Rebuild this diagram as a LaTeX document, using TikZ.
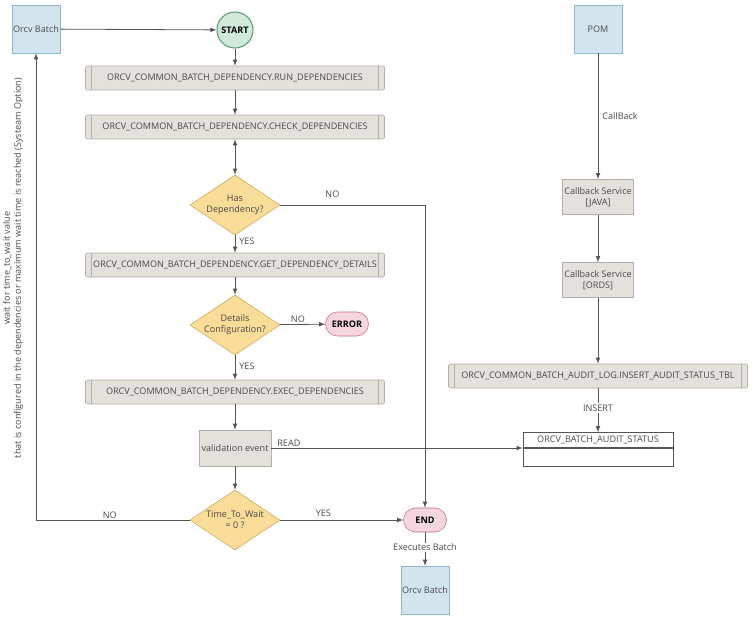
\documentclass[tikz,border=0pt]{standalone}
\usepackage{fontspec}
\setmainfont{Open Sans}
\usetikzlibrary{shapes.geometric, positioning}

\definecolor{bluefill}{HTML}{D2E5EE}
\definecolor{blueline}{HTML}{8DB9CA}
\definecolor{greenfill}{HTML}{D0E9D8}
\definecolor{greenline}{HTML}{5E9C78}
\definecolor{greyfill}{HTML}{E4E1DD}
\definecolor{greyline}{HTML}{B3AFAA}
\definecolor{yellowfill}{HTML}{F9DC98}
\definecolor{yellowline}{HTML}{C9A64E}
\definecolor{pinkfill}{HTML}{F6D6DE}
\definecolor{pinkline}{HTML}{C46A80}
\definecolor{txtgray}{HTML}{4A4A4A}
\definecolor{linegray}{HTML}{555555}

\tikzset{
  every node/.style={font=\fontsize{6.8}{8.2}\selectfont, text=txtgray},
  batchbox/.style={draw=blueline, fill=bluefill, minimum size=48*0.75pt, inner sep=0pt},
  subproc/.style={draw=greyline, fill=greyfill, rounded corners=1pt,
    minimum width=299*0.75pt, minimum height=24*0.75pt, inner sep=0pt,
    path picture={
      \draw[greyline] ([xshift=6*0.75pt]path picture bounding box.north west) -- ([xshift=6*0.75pt]path picture bounding box.south west);
      \draw[greyline] ([xshift=-6*0.75pt]path picture bounding box.north east) -- ([xshift=-6*0.75pt]path picture bounding box.south east);}},
  service/.style={draw=greyline, fill=greyfill, minimum width=71*0.75pt,
    minimum height=35*0.75pt, inner sep=0pt, align=center},
  decision/.style={diamond, draw=yellowline, fill=yellowfill,
    minimum width=90*0.75pt, minimum height=60*0.75pt, inner sep=0pt},
  terminal/.style={draw=pinkline, fill=pinkfill, rounded corners=9pt,
    minimum width=43*0.75pt, minimum height=24*0.75pt, inner sep=0pt,
    font=\fontsize{6.8}{8.2}\selectfont\bfseries},
  flow/.style={draw=linegray, line width=0.6pt},
  lbl/.style={inner sep=1pt}
}

\begin{document}
\begin{tikzpicture}[x=0.75pt, y=-0.75pt]
  \useasboundingbox (0,0) rectangle (753,618);

  % Left column
  \node[batchbox] (orcvtop) at (36,29) {Orcv Batch};
  \node[circle, draw=greenline, fill=greenfill, line width=0.8pt, minimum size=36*0.75pt,
    inner sep=0pt, font=\fontsize{6.8}{8.2}\selectfont\bfseries, text=black] (start) at (235,30) {START};
  \node[subproc] (rundep) at (235,78) {ORCV\_COMMON\_BATCH\_DEPENDENCY.RUN\_DEPENDENCIES};
  \node[subproc] (checkdep) at (235,127) {ORCV\_COMMON\_BATCH\_DEPENDENCY.CHECK\_DEPENDENCIES};
  \node[decision, label={[align=center, text=txtgray]center:Has\\Dependency?}] (hasdep) at (235,205) {};
  \node[subproc] (getdet) at (235,265) {ORCV\_COMMON\_BATCH\_DEPENDENCY.GET\_DEPENDENCY\_DETAILS};
  \node[decision, label={[align=center, text=txtgray]center:Details\\Configuration?}] (detcfg) at (235,325) {};
  \node[terminal, text=black] (error) at (347,324) {ERROR};
  \node[subproc] (execdep) at (235,392) {ORCV\_COMMON\_BATCH\_DEPENDENCY.EXEC\_DEPENDENCIES};
  \node[draw=greyline, fill=greyfill, minimum width=72*0.75pt, minimum height=36*0.75pt,
    inner sep=0pt] (valid) at (235,448) {validation event};
  \node[decision, label={[align=center, text=txtgray]center:Time\_To\_Wait\\= 0 ?}] (timewait) at (235,520) {};
  \node[terminal, text=black] (endnode) at (425,520) {END};
  \node[batchbox] (orcvbot) at (425,590) {Orcv Batch};

  % Right column
  \node[batchbox] (pom) at (598,29) {POM};
  \node[service] (javasvc) at (598,197) {Callback Service\\{}[JAVA]};
  \node[service] (ordssvc) at (598,280) {Callback Service\\{}[ORDS]};
  \node[subproc] (insaudit) at (598,376) {ORCV\_COMMON\_BATCH\_AUDIT\_LOG.INSERT\_AUDIT\_STATUS\_TBL};
  \node[draw=linegray, minimum width=150*0.75pt, minimum height=15*0.75pt, inner sep=0pt] (audithead) at (598,440) {ORCV\_BATCH\_AUDIT\_STATUS};
  \node[draw=linegray, minimum width=150*0.75pt, minimum height=18*0.75pt, inner sep=0pt,
    below=0pt of audithead] (auditbody) {};

  % Side note
  \node[rotate=90, align=center] (waitnote) at (13,268)
    {wait for time\_to\_wait value\\that is configured in the dependencies or maximum wait time is reached (Systeam Option)};

  % Arrows
  \draw[flow, -latex] (orcvtop) -- (start);
  \draw[flow, -latex] (start) -- (rundep);
  \draw[flow, -latex] (rundep) -- (checkdep);
  \draw[flow, latex-latex] (checkdep) -- (hasdep);
  \draw[flow, -latex] (hasdep.east) -| (endnode.north) node[lbl, pos=.18, above=4pt]{NO};
  \draw[flow, -latex] (hasdep) -- (getdet) node[lbl, pos=.35, right=2pt]{YES};
  \draw[flow, -latex] (getdet) -- (detcfg);
  \draw[flow, -latex] (detcfg) -- (error) node[lbl, pos=.4, above]{NO};
  \draw[flow, -latex] (detcfg) -- (execdep) node[lbl, pos=.45, right=2pt]{YES};
  \draw[flow, -latex] (execdep) -- (valid);
  \draw[flow, -latex] (valid.east) -- (valid.east -| auditbody.west) node[lbl, pos=.07, above]{READ};
  \draw[flow, -latex] (valid) -- (timewait);
  \draw[flow, -latex] (timewait.west) -| (orcvtop.south) node[lbl, pos=.26, above]{NO};
  \draw[flow, -latex] (timewait) -- (endnode) node[lbl, pos=.35, above=1pt]{YES};
  \draw[flow, -latex] (endnode) -- (orcvbot) node[lbl, pos=.45, fill=white]{Executes Batch};
  \draw[flow, -latex] (pom) -- (javasvc) node[lbl, pos=.5, right=2pt]{CallBack};
  \draw[flow, -latex] (javasvc) -- (ordssvc);
  \draw[flow, -latex] (ordssvc) -- (insaudit);
  \draw[flow, -latex] (insaudit) -- (audithead) node[lbl, pos=.45, fill=white]{INSERT};
\end{tikzpicture}
\end{document}
